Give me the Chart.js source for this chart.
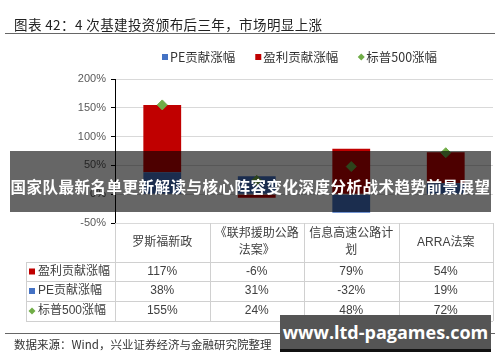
<!DOCTYPE html>
<html lang="zh-CN">
<head>
<meta charset="UTF-8" />
<title>4次基建投资颁布后三年，市场明显上涨</title>
<script src="https://cdn.jsdelivr.net/npm/chart.js@4.4.1/dist/chart.umd.min.js"></script>
<style>
  body { margin: 0; padding: 0; background: #fff; }
  .wrap { position: relative; width: 500px; height: 362px; overflow: hidden; font-family: "Noto Sans CJK SC", sans-serif; }
  #chart { position: absolute; left: 0; top: 0; }
  .title { position: absolute; left: 14px; top: 15px; font-size: 13.5px; line-height: 18px; color: #222; white-space: nowrap; letter-spacing: 0.4px; }
  .rule { position: absolute; left: 5px; width: 490px; height: 1px; background: #666; }
  .source { position: absolute; left: 14px; top: 335px; font-size: 11.5px; line-height: 18px; color: #333; white-space: nowrap; }
  .banner { position: absolute; left: 10px; top: 151px; width: 481px; height: 61px; background: rgba(0,0,0,0.6);
            color: #fff; font-weight: 700; font-size: 15.5px; letter-spacing: 0.5px; line-height: 61px; text-align: center; white-space: nowrap; padding-top: 5px; box-sizing: border-box; }
  .mark { position: absolute; left: 280px; top: 315px; width: 211px; height: 37px; background: #555; border-bottom: 3px solid #111; box-sizing: border-box;
          color: #fff; font-family: "Open Sans", sans-serif; font-weight: 700; font-size: 18px; line-height: 34px; text-align: center; white-space: nowrap; }
</style>
</head>
<body>
<div class="wrap">
  <canvas id="chart" width="500" height="362"></canvas>
  <div class="title">图表 42：4 次基建投资颁布后三年，市场明显上涨</div>
  <div class="rule" style="top:33px"></div>
  <div class="rule" style="top:333px"></div>
  <div class="source">数据来源：Wind，兴业证券经济与金融研究院整理</div>
  <div class="banner">国家队最新名单更新解读与核心阵容变化深度分析战术趋势前景展望</div>
  <div class="mark">www.ltd-pagames.com</div>
</div>

<script>
  // data (percent)
  const categories = ['罗斯福新政', ['《联邦援助公路', '法案》'], ['信息高速公路计', '划'], 'ARRA法案'];
  const earningsGain = [117, -6, 79, 54];
  const peGain = [38, 31, -32, 19];
  const sp500Gain = [155, 24, 48, 72];
  const yMin = -50, yMax = 200, yStep = 50;

  const RED = '#C00000', BLUE = '#4472C4', GREEN = '#70AD47';
  const TEXT = '#404040';
  const LINE = '#d0d0d0';
  const latin = '"Liberation Sans", "Noto Sans CJK SC", sans-serif';

  function drawMarker(ctx, kind, color, x, y) {
    ctx.fillStyle = color;
    if (kind === 'diamond') {
      ctx.beginPath();
      ctx.moveTo(x, y - 3.5); ctx.lineTo(x + 3.5, y); ctx.lineTo(x, y + 3.5); ctx.lineTo(x - 3.5, y);
      ctx.closePath(); ctx.fill();
    } else {
      ctx.fillRect(x - 3, y - 3, 6, 6);
    }
  }

  // legend above the plot
  const legendPlugin = {
    id: 'topLegend',
    afterDraw(chart) {
      const ctx = chart.ctx;
      const items = [
        { label: chart.data.datasets[0].label, color: BLUE, kind: 'square' },
        { label: chart.data.datasets[1].label, color: RED, kind: 'square' },
        { label: chart.data.datasets[2].label, color: GREEN, kind: 'diamond' }
      ];
      ctx.save();
      ctx.font = '12.5px "Noto Sans CJK SC", sans-serif';
      ctx.textBaseline = 'middle';
      let x = 162;
      const y = 57;
      items.forEach(it => {
        drawMarker(ctx, it.kind, it.color, x + 3, y);
        ctx.fillStyle = '#333';
        ctx.fillText(it.label, x + 8, y);
        x += 8 + ctx.measureText(it.label).width + 20;
      });
      ctx.restore();
    }
  };

  // data table under the plot, columns taken from the x scale
  const tablePlugin = {
    id: 'dataTable',
    afterDraw(chart) {
      const ctx = chart.ctx;
      const xs = chart.scales.x;
      const area = chart.chartArea;
      const half = (xs.getPixelForValue(1) - xs.getPixelForValue(0)) / 2;
      const top = area.bottom;
      const headBottom = top + 39;
      const rowH = [19, 20, 20];
      const leftX = 26;
      const rows = [
        { label: chart.data.datasets[1].label, values: earningsGain, color: RED, kind: 'square' },
        { label: chart.data.datasets[0].label, values: peGain, color: BLUE, kind: 'square' },
        { label: chart.data.datasets[2].label, values: sp500Gain, color: GREEN, kind: 'diamond' }
      ];
      ctx.save();
      ctx.strokeStyle = LINE;
      ctx.lineWidth = 1;
      // horizontal lines
      let y = headBottom;
      const ys = [headBottom];
      rowH.forEach(h => { y += h; ys.push(y); });
      ctx.beginPath();
      ys.forEach(yy => { ctx.moveTo(leftX, Math.round(yy) + 0.5); ctx.lineTo(area.right, Math.round(yy) + 0.5); });
      // vertical lines
      for (let i = 0; i <= categories.length; i++) {
        const vx = i === 0 ? area.left : xs.getPixelForValue(i - 1) + half;
        ctx.moveTo(Math.round(vx) + 0.5, top);
        ctx.lineTo(Math.round(vx) + 0.5, ys[ys.length - 1]);
      }
      ctx.moveTo(leftX + 0.5, headBottom);
      ctx.lineTo(leftX + 0.5, ys[ys.length - 1]);
      ctx.stroke();

      // header
      ctx.fillStyle = TEXT;
      ctx.font = '12px ' + latin;
      ctx.textAlign = 'center';
      ctx.textBaseline = 'middle';
      categories.forEach((c, i) => {
        const cx = xs.getPixelForValue(i);
        const lines = Array.isArray(c) ? c : [c];
        const mid = (top + headBottom) / 2;
        lines.forEach((ln, k) => {
          ctx.fillText(ln, cx, mid + (k - (lines.length - 1) / 2) * 17);
        });
      });

      // rows
      rows.forEach((r, ri) => {
        const cy = (ys[ri] + ys[ri + 1]) / 2;
        drawMarker(ctx, r.kind, r.color, leftX + 6, cy);
        ctx.fillStyle = TEXT;
        ctx.textAlign = 'left';
        ctx.fillText(r.label, leftX + 12, cy);
        ctx.textAlign = 'center';
        r.values.forEach((v, i) => {
          ctx.fillText(v + '%', xs.getPixelForValue(i), cy);
        });
      });
      ctx.restore();
    }
  };

  const ctx = document.getElementById('chart').getContext('2d');
  new Chart(ctx, {
    type: 'bar',
    data: {
      labels: categories,
      datasets: [
        { label: 'PE贡献涨幅', data: peGain, backgroundColor: BLUE, stack: 's', order: 2, barPercentage: 0.4, categoryPercentage: 1 },
        { label: '盈利贡献涨幅', data: earningsGain, backgroundColor: RED, stack: 's', order: 2, barPercentage: 0.4, categoryPercentage: 1 },
        { label: '标普500涨幅', type: 'line', data: sp500Gain, showLine: false, order: 0,
          pointStyle: 'rectRot', pointRadius: 5, pointHoverRadius: 5,
          pointBackgroundColor: GREEN, pointBorderColor: GREEN, borderColor: GREEN, backgroundColor: GREEN }
      ]
    },
    options: {
      responsive: false,
      animation: false,
      layout: { padding: { top: 79, bottom: 139, left: 0, right: 7 } },
      plugins: { legend: { display: false }, tooltip: { enabled: false } },
      scales: {
        x: { display: false, stacked: true },
        y: {
          stacked: true,
          min: yMin, max: yMax,
          afterFit(axis) { axis.width = 115; },
          ticks: { stepSize: yStep, padding: 5, color: '#595959', font: { size: 11, family: latin }, callback: v => v + '%' },
          grid: { color: '#d9d9d9', tickColor: '#000', tickLength: 4 },
          border: { color: '#000' }
        }
      }
    },
    plugins: [legendPlugin, tablePlugin]
  });
</script>
</body>
</html>
